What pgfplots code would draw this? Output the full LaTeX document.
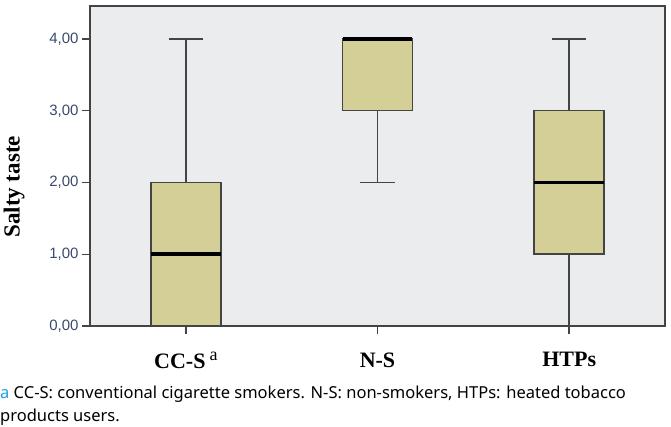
\documentclass[border=0pt]{standalone}
\usepackage{fontspec}
\setmainfont{Liberation Serif}
\newfontfamily\tickfont{Liberation Sans}
\newfontfamily\notefont{Noto Sans}
\usepackage{pgfplots}
\pgfplotsset{compat=1.18}
\usepgfplotslibrary{statistics}
\definecolor{boxfill}{HTML}{D3CF97}
\definecolor{plotbg}{HTML}{EBECEE}
\definecolor{tickcol}{HTML}{3A4A6A}
\definecolor{linecol}{HTML}{444444}
\definecolor{notea}{HTML}{1AA3E0}
\begin{document}
\begin{tikzpicture}
\path[use as bounding box] (-90pt,-101pt) rectangle (581pt,326pt);
\begin{axis}[
    at={(0pt,0pt)}, anchor=origin,
    width=575pt, height=320pt,
    scale only axis,
    xmin=0.5, xmax=3.5,
    ymin=0, ymax=4.46,
    axis background/.style={fill=plotbg},
    axis line style={linecol, line width=1.4pt},
    tick align=outside,
    major tick length=8pt,
    tick style={linecol, line width=1.4pt},
    xtick={1,2,3},
    xticklabels={CC-S\hspace{4pt}\raisebox{8pt}{\fontsize{18}{18}\selectfont\mdseries a}, N-S, HTPs},
    xticklabel style={font=\fontsize{22}{22}\selectfont\bfseries, text=black, yshift=-15pt},
    ytick={0,1,2,3,4},
    xtick pos=bottom, ytick pos=left,
    yticklabel style={font=\tickfont\fontsize{15}{15}\selectfont, text=tickcol},
    /pgf/number format/assume math mode=true,
    yticklabel={\pgfmathprintnumber[fixed, fixed zerofill, precision=2, use comma]{\tick}},
    ylabel={Salty taste},
    ylabel style={at={(axis description cs:-0.132,0.435)}, anchor=center,
        font=\fontsize{23}{23}\selectfont\bfseries},
    boxplot/draw direction=y,
    boxplot/box extend=0.365,
    boxplot/whisker extend=0.18,
    boxplot/every box/.style={draw=linecol, line width=1.5pt, fill=boxfill},
    boxplot/every whisker/.style={linecol, line width=1.7pt},
    boxplot/every median/.style={black, line width=3.5pt},
]
\addplot[boxplot prepared={draw position=1, lower whisker=0, lower quartile=0,
    median=1, upper quartile=2, upper whisker=4}] coordinates {};
\addplot[boxplot prepared={draw position=2, lower whisker=2, lower quartile=3,
    median=4, upper quartile=4, upper whisker=4}] coordinates {};
\addplot[boxplot prepared={draw position=3, lower whisker=0, lower quartile=1,
    median=2, upper quartile=3, upper whisker=4}] coordinates {};
\end{axis}
\node[anchor=base west, inner sep=0pt, font=\notefont\fontsize{16.5}{16.5}\selectfont]
    at (-90pt,-73pt) {\textcolor{notea}{a} CC-S: conventional cigarette smokers. N-S: non-smokers, HTPs: heated tobacco};
\node[anchor=base west, inner sep=0pt, font=\notefont\fontsize{16.5}{16.5}\selectfont]
    at (-90pt,-96pt) {products users.};
\end{tikzpicture}
\end{document}
